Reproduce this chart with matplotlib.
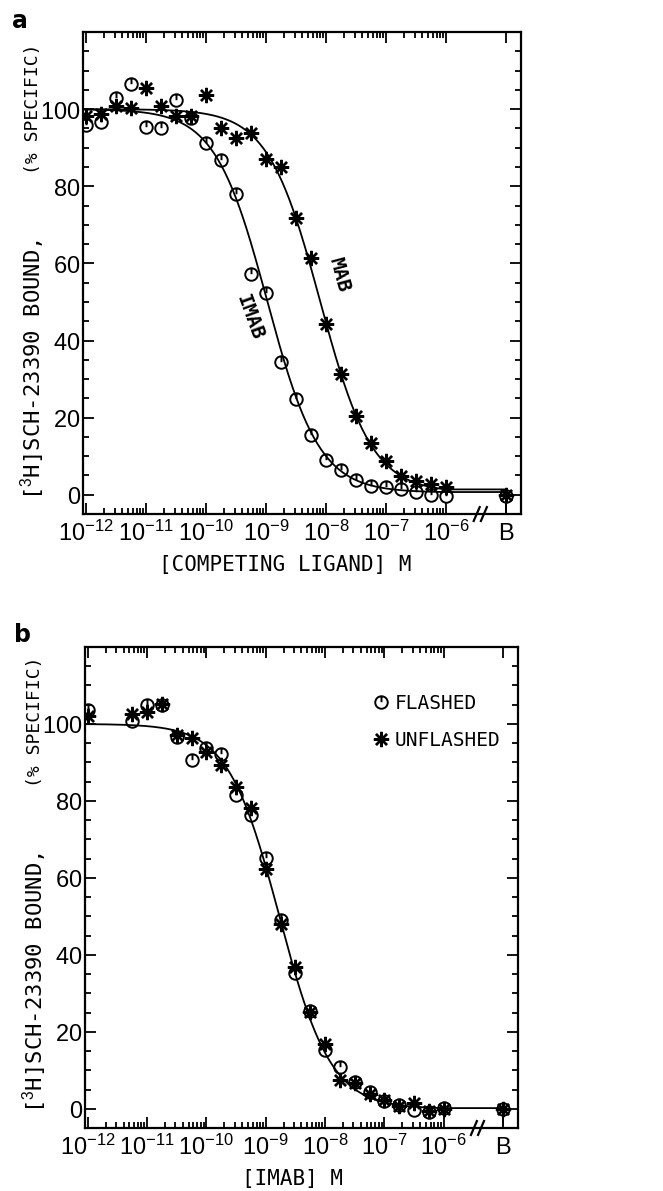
import numpy as np
import matplotlib
matplotlib.use("Agg")
import matplotlib.pyplot as plt
from matplotlib.path import Path
from matplotlib import font_manager

names = {f.name for f in font_manager.fontManager.ttflist}
NARROW = 'Liberation Sans Narrow' if 'Liberation Sans Narrow' in names else 'Liberation Sans'

plt.rcParams['font.family'] = ['DejaVu Sans Mono', 'DejaVu Sans']
plt.rcParams['mathtext.fontset'] = 'custom'
plt.rcParams['mathtext.rm'] = NARROW
plt.rcParams['mathtext.it'] = NARROW
plt.rcParams['mathtext.bf'] = NARROW

# log10 concentrations (M); B = blank position on the axis
B_POS = -5.0
x_imab_a = [-12, -11.75, -11.5, -11.25, -11, -10.75, -10.5, -10.25, -10, -9.75, -9.5, -9.25, -9,
            -8.75, -8.5, -8.25, -8, -7.75, -7.5, -7.25, -7, -6.75, -6.5, -6.25, -6]
y_imab_a = [95.8, 96.7, 102.9, 106.4, 95.5, 95.1, 102.3, 97.7, 91.3, 86.8, 78.1, 57.3, 52.4,
            34.4, 24.9, 15.6, 8.9, 6.3, 3.7, 2.4, 2.0, 1.6, 0.7, 0.0, -0.2]
x_mab_a = x_imab_a
y_mab_a = [98.3, 98.7, 100.7, 100.4, 105.4, 100.9, 98.1, 98.1, 103.7, 95.2, 92.4, 93.7, 87.2,
           85.0, 71.7, 61.3, 44.2, 31.3, 20.5, 13.4, 8.7, 4.8, 3.6, 2.9, 2.0]
b_imab_a, b_mab_a = -0.3, 0.0

x_b = [-12, -11.25, -11, -10.75, -10.5, -10.25, -10, -9.75, -9.5, -9.25, -9, -8.75, -8.5,
       -8.25, -8, -7.75, -7.5, -7.25, -7, -6.75, -6.5, -6.25, -6]
y_flashed = [103.6, 100.7, 104.9, 105.0, 96.7, 90.7, 93.8, 92.2, 81.6, 76.4, 65.1, 49.1, 35.2,
             25.5, 15.3, 10.8, 6.9, 4.3, 1.9, 0.9, -0.3, -0.9, 0.3]
y_unflashed = [102.0, 102.6, 103.0, 105.2, 97.1, 96.3, 92.6, 89.4, 83.5, 78.1, 62.3, 48.1, 36.8,
               25.1, 16.9, 7.4, 6.6, 3.9, 2.2, 0.7, 1.5, -0.6, 0.0]
b_flashed, b_unflashed = 0.0, 0.0

# fitted one-site curves: (top, bottom, logIC50, hill)
fit_imab = (100.0, 0.6, -8.98, 1.0)
fit_mab = (100.0, 0.6, -8.10, 1.0)
fit_b = (100.0, 0.0, -8.77, 1.0)

# circle-with-tick marker
circ = Path.unit_circle()
tick = Path([[0, 1], [0, 0.05]], [Path.MOVETO, Path.LINETO])
circ_tick = Path.make_compound_path(circ, tick)
star = (8, 2, 0)


def curve(p):
    top, bot, c, n = p
    xs = np.linspace(-12.05, -6, 300)
    ys = bot + (top - bot) / (1 + 10 ** (n * (xs - c)))
    xs = np.append(xs, B_POS)
    ys = np.append(ys, ys[-1])
    return xs, ys


def style_axes(ax, xlabel, label_x):
    ax.set_xlim(-12.05, -4.75)
    ax.set_ylim(-5, 120)
    majors = list(range(-12, -5)) + [B_POS]
    ax.set_xticks(majors)
    ax.set_xticklabels(['$10^{%d}$' % d for d in range(-12, -5)] + ['$\\mathrm{B}$'])
    minors = [d + np.log10(k) for d in range(-12, -6) for k in range(2, 10)]
    ax.set_xticks(minors, minor=True)
    ax.set_yticks([0, 20, 40, 60, 80, 100])
    ax.set_yticklabels(['$%d$' % v for v in [0, 20, 40, 60, 80, 100]])
    ax.set_yticks(np.arange(-5, 121, 5), minor=True)
    ax.tick_params(which='both', direction='in', top=True, right=True, width=1.3,
                   labelsize=17)
    ax.tick_params(axis='x', pad=5)
    ax.tick_params(axis='y', pad=1.5)
    ax.tick_params(which='major', length=8)
    ax.tick_params(which='minor', length=4.5)
    for s in ax.spines.values():
        s.set_linewidth(1.6)
    ax.set_xlabel(xlabel, fontsize=15)
    ax.xaxis.set_label_coords(label_x, -0.085)
    # axis break marks
    for dx in (-0.06, 0.06):
        ax.plot([-5.48 + dx, -5.38 + dx], [-6.8, -3.2], color='black', lw=1.6,
                clip_on=False, zorder=5)


fig = plt.figure(figsize=(6.63, 11.91), dpi=100)
axa = fig.add_axes([0.125, 0.5684, 0.661, 0.4047])
axb = fig.add_axes([0.128, 0.0529, 0.653, 0.4039])

mk = dict(linestyle='none', markerfacecolor='none', markeredgecolor='black', zorder=4)
mk_c = dict(markersize=9, markeredgewidth=1.4, **mk)
mk_s = dict(markersize=11, markeredgewidth=1.7, **mk)

# panel a
xs, ys = curve(fit_imab)
axa.plot(xs, ys, color='black', lw=1.3)
xs, ys = curve(fit_mab)
axa.plot(xs, ys, color='black', lw=1.3)
axa.plot(x_imab_a, y_imab_a, marker=circ_tick, **mk_c)
axa.plot(x_mab_a, y_mab_a, marker=star, **mk_s)
axa.errorbar([B_POS], [b_imab_a], yerr=[[4.5], [0]], fmt='none', ecolor='black', lw=1.3)
axa.plot([B_POS], [b_imab_a], marker=circ_tick, **mk_c)
axa.plot([B_POS], [b_mab_a], marker=star, **mk_s)
axa.text(-9.27, 46, 'IMAB', rotation=-70, fontsize=14, fontweight='bold',
         ha='center', va='center')
axa.text(-7.78, 57, 'MAB', rotation=-75, fontsize=14, fontweight='bold',
         ha='center', va='center')
style_axes(axa, '[COMPETING LIGAND] M', (285 - 83) / 438)

# panel b
xs, ys = curve(fit_b)
axb.plot(xs, ys, color='black', lw=1.3)
axb.plot(x_b, y_flashed, marker=circ_tick, label='FLASHED', **mk_c)
axb.plot(x_b, y_unflashed, marker=star, label='UNFLASHED', **mk_s)
axb.errorbar([B_POS], [b_flashed], yerr=[[4.5], [0]], fmt='none', ecolor='black', lw=1.3)
axb.plot([B_POS], [b_flashed], marker=circ_tick, **mk_c)
axb.plot([B_POS], [b_unflashed], marker=star, **mk_s)
axb.legend(loc='upper left', bbox_to_anchor=(0.667, 0.902), frameon=False, fontsize=14,
           handlelength=0.8, handletextpad=0.3, labelspacing=0.9, borderpad=0,
           borderaxespad=0)
style_axes(axb, '[IMAB] M', (293 - 85) / 433)

# y labels: main part plus smaller "(% SPECIFIC)"
for x_px, top_px, bot_px in ((33, 43, 500), (35, 657, 1113)):
    fig.text(x_px / 663, 1 - bot_px / 1191, r'[$^3$H]SCH-23390 BOUND,', rotation=90,
             fontsize=16, ha='center', va='bottom')
    fig.text(x_px / 663, 1 - top_px / 1191, '(% SPECIFIC)', rotation=90,
             fontsize=13, ha='center', va='top')

fig.text(12 / 663, 1 - 28 / 1191, 'a', fontsize=17, fontweight='bold', family='DejaVu Sans')
fig.text(14 / 663, 1 - 642 / 1191, 'b', fontsize=17, fontweight='bold', family='DejaVu Sans')

fig.savefig('out.png', dpi=100)
